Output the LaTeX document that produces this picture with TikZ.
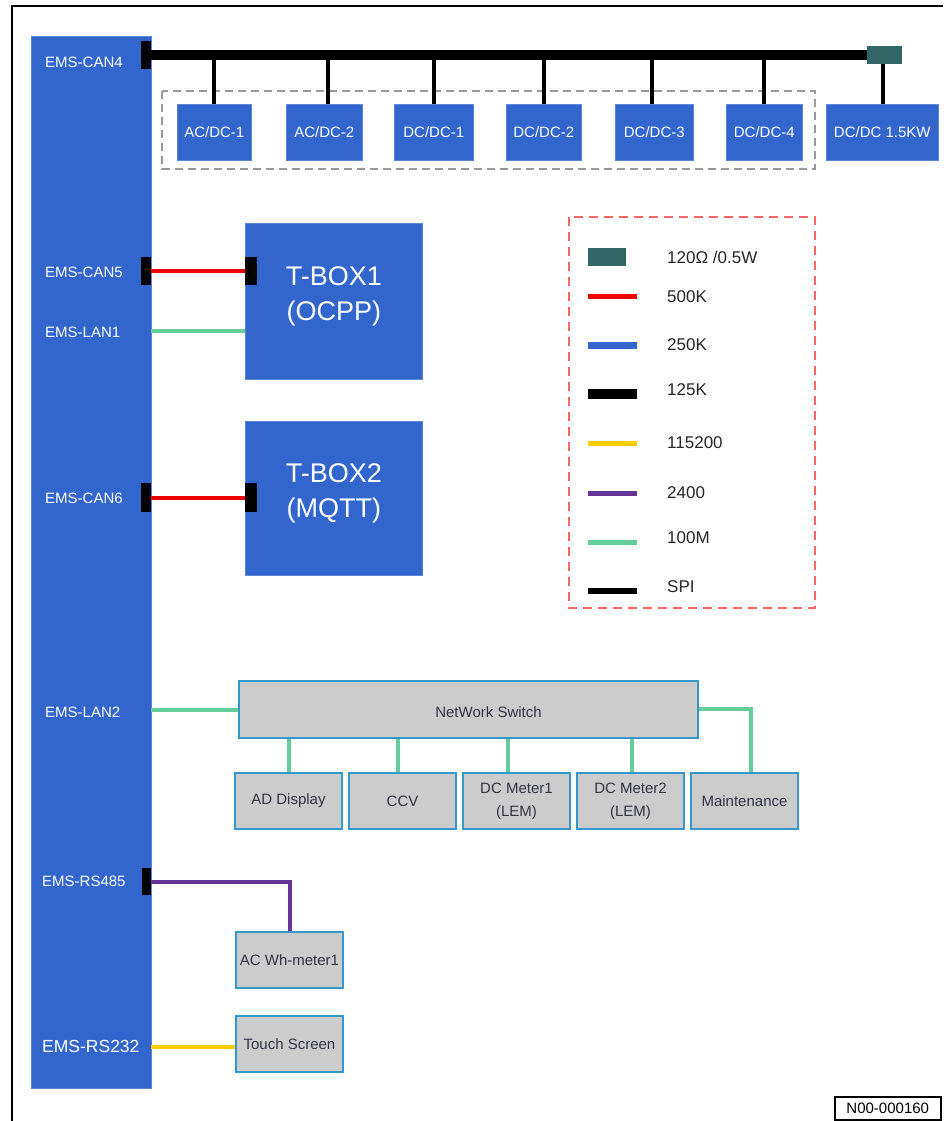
\documentclass[tikz,border=0pt]{standalone}
\usepackage{fontspec}
\setmainfont{Liberation Sans}
\definecolor{emsblue}{HTML}{3366CC}
\definecolor{busred}{HTML}{EE0000}
\definecolor{lan}{HTML}{66CC99}
\definecolor{rspurple}{HTML}{663399}
\definecolor{rsyellow}{HTML}{FFCC00}
\definecolor{termteal}{HTML}{336666}
\definecolor{boxgray}{HTML}{CCCCCC}
\definecolor{boxedge}{HTML}{3399CC}
\definecolor{legred}{HTML}{FF6666}
\definecolor{graytext}{HTML}{333344}
\begin{document}
\begin{tikzpicture}[x=1pt,y=-1pt,
  bluebox/.style={fill=emsblue, draw=emsblue!80!white, line width=0.6pt, text=white,
    inner sep=0pt, anchor=north west, align=center, font=\fontsize{15}{18}\selectfont},
  graybox/.style={fill=boxgray, draw=boxedge, line width=2pt, text=graytext,
    inner sep=0pt, anchor=north west, align=center, font=\fontsize{15}{23}\selectfont,
    minimum width=107pt, minimum height=56pt},
  blk/.style={fill=black, inner sep=0pt, anchor=north west},
  emslbl/.style={text=white, anchor=west, inner sep=0pt, font=\fontsize{15}{18}\selectfont},
  leglbl/.style={anchor=west, inner sep=0pt, text=black!85, font=\fontsize{17}{20}\selectfont},
  canbus/.style={line width=10pt, black},
  drop/.style={line width=4pt, black},
  red500/.style={busred, line width=4pt},
  lanline/.style={lan, line width=4pt},
]
\useasboundingbox (0,0) rectangle (943,1121);
% frame
\draw[line width=2pt] (12,1121) -- (12,6.5) -- (943,6.5);

% EMS main block
\node[bluebox, minimum width=120pt, minimum height=1052pt] (ems) at (31,36) {};
\node[emslbl] (l4) at (45,62) {EMS-CAN4};
\node[emslbl] (l5) at (45,272) {EMS-CAN5};
\node[emslbl] (ll1) at (45,332) {EMS-LAN1};
\node[emslbl] (l6) at (45,498) {EMS-CAN6};
\node[emslbl] (ll2) at (45,712) {EMS-LAN2};
\node[emslbl] (l485) at (42,881) {EMS-RS485};
\node[emslbl, font=\fontsize{17.5}{20}\selectfont] (l232) at (42,1046) {EMS-RS232};

% top CAN bus
\draw[gray!80, line width=1.5pt, dash pattern=on 8pt off 5pt] (162,91) rectangle (815,169);
\node[bluebox, minimum width=74pt, minimum height=56pt] (acdc1) at (177,104) {AC/DC-1};
\node[bluebox, minimum width=76pt, minimum height=56pt] (acdc2) at (286,104) {AC/DC-2};
\node[bluebox, minimum width=79pt, minimum height=56pt] (dcdc1) at (394,104) {DC/DC-1};
\node[bluebox, minimum width=75pt, minimum height=56pt] (dcdc2) at (506,104) {DC/DC-2};
\node[bluebox, minimum width=78pt, minimum height=56pt] (dcdc3) at (615,104) {DC/DC-3};
\node[bluebox, minimum width=76pt, minimum height=56pt] (dcdc4) at (726,104) {DC/DC-4};
\node[bluebox, minimum width=112pt, minimum height=56pt] (dc15) at (826,104) {DC/DC 1.5KW};
\node[blk, minimum width=10pt, minimum height=28pt] (can4blk) at (141,41) {};
\node[fill=termteal, inner sep=0pt, anchor=north west, minimum width=35pt, minimum height=18pt] (term) at (867,46) {};
\draw[canbus] (can4blk.east) -- (term.west);
\draw[drop] (acdc1.north) -- (acdc1.north |- can4blk.east);
\draw[drop] ([xshift=4pt]acdc2.north) -- ([xshift=4pt]acdc2.north |- can4blk.east);
\draw[drop] (dcdc1.north) -- (dcdc1.north |- can4blk.east);
\draw[drop] (dcdc2.north) -- (dcdc2.north |- can4blk.east);
\draw[drop] ([xshift=-2pt]dcdc3.north) -- ([xshift=-2pt]dcdc3.north |- can4blk.east);
\draw[drop] (dcdc4.north) -- (dcdc4.north |- can4blk.east);
\draw[drop] ([xshift=1pt]dc15.north) -- ([xshift=1pt]dc15.north |- term.south);

% T-BOX1
\node[bluebox, minimum width=177pt, minimum height=156pt] (tbox1) at (245,223) {};
\node[text=white, align=center, inner sep=0pt, font=\fontsize{27}{35}\selectfont] (tb1txt) at ([yshift=5pt]tbox1.center) {T-BOX1\\(OCPP)};
\node[blk, minimum width=10pt, minimum height=28pt] (can5blk) at (141,257) {};
\node[blk, minimum width=12pt, minimum height=28pt] (tb1blk) at (245,257) {};
\draw[red500] (can5blk.east) -- (tb1blk.west);
\coordinate (lan1) at (151,331);
\draw[lanline] (lan1) -- (lan1 -| tbox1.west);

% T-BOX2
\node[bluebox, minimum width=177pt, minimum height=154pt] (tbox2) at (245,421) {};
\node[text=white, align=center, inner sep=0pt, font=\fontsize{27}{35}\selectfont] (tb2txt) at ([yshift=5pt]tbox2.center) {T-BOX2\\(MQTT)};
\node[blk, minimum width=10pt, minimum height=29pt] (can6blk) at (141,483) {};
\node[blk, minimum width=12pt, minimum height=29pt] (tb2blk) at (245,483) {};
\draw[red500] (can6blk.east) -- (tb2blk.west);

% legend
\draw[legred, line width=2pt, dash pattern=on 9pt off 6pt] (569,217) rectangle (815,608);
\fill[termteal] (588,248) rectangle (626,266);
\draw[busred, line width=5pt] (588,296) -- (637,296);
\draw[emsblue, line width=7pt] (588,345) -- (637,345);
\draw[black, line width=10pt] (588,394) -- (637,394);
\draw[rsyellow, line width=5pt] (588,443) -- (637,443);
\draw[rspurple, line width=5pt] (588,493) -- (637,493);
\draw[lan, line width=5pt] (588,542) -- (637,542);
\draw[black, line width=6pt] (588,591) -- (637,591);
\node[leglbl] (g1) at (667,257) {120Ω /0.5W};
\node[leglbl] (g2) at (667,297) {500K};
\node[leglbl] (g3) at (667,345) {250K};
\node[leglbl] (g4) at (667,390) {125K};
\node[leglbl] (g5) at (667,443) {115200};
\node[leglbl] (g6) at (667,493) {2400};
\node[leglbl] (g7) at (667,538) {100M};
\node[leglbl] (g8) at (667,587) {SPI};

% network switch
\node[graybox, minimum width=459pt, minimum height=57pt] (nsw) at (238,680) {};
\node[text=graytext, inner sep=0pt, font=\fontsize{15}{18}\selectfont] (nswtxt) at ([xshift=20pt,yshift=-3pt]nsw.center) {NetWork Switch};
\node[graybox] (adisp) at (234,772) {AD Display};
\node[graybox] (ccv) at (348,772) {CCV};
\node[graybox] (dcm1) at (462,772) {DC Meter1\\(LEM)};
\node[graybox] (dcm2) at (576,772) {DC Meter2\\(LEM)};
\node[graybox] (maint) at (690,772) {Maintenance};
\coordinate (lan2) at (151,710);
\draw[lanline] (lan2) -- (lan2 -| nsw.west);
\draw[lanline] (adisp.north) -- (adisp.north |- nsw.south);
\draw[lanline] ([xshift=-5pt]ccv.north) -- ([xshift=-5pt]ccv.north |- nsw.south);
\draw[lanline] ([xshift=-9pt]dcm1.north) -- ([xshift=-9pt]dcm1.north |- nsw.south);
\draw[lanline] ([xshift=1pt]dcm2.north) -- ([xshift=1pt]dcm2.north |- nsw.south);
\draw[lanline] ([yshift=1pt]nsw.east) -| ([xshift=6.5pt]maint.north);

% RS485 / RS232
\node[graybox] (acwh) at (235,931) {AC Wh-meter1};
\node[graybox] (touch) at (235,1015) {Touch Screen};
\node[blk, minimum width=9pt, minimum height=27pt] (rs485blk) at (142,868) {};
\draw[rspurple, line width=4pt] (rs485blk.east) -| (acwh.north);
\coordinate (rs232) at (151,1047);
\draw[rsyellow, line width=4pt] (rs232) -- (rs232 -| touch.west);

% drawing number
\node[draw, line width=1.5pt, anchor=north west, inner sep=0pt, minimum width=106pt, minimum height=23pt,
  font=\fontsize{15}{18}\selectfont] (code) at (834,1096) {N00-000160};
\end{tikzpicture}
\end{document}
